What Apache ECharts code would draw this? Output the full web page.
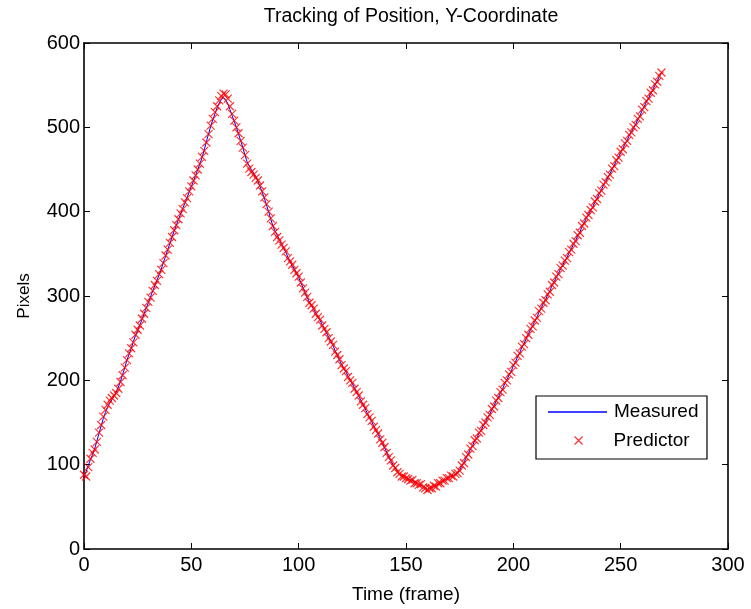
<!DOCTYPE html>
<html>
<head>
<meta charset="utf-8">
<script src="https://cdn.jsdelivr.net/npm/echarts@6/dist/echarts.min.js"></script>
<style>
  html, body { margin: 0; padding: 0; background: #fff; }
  #chart { width: 751px; height: 609px; }
</style>
</head>
<body>
<div id="chart"></div>
<script>
// Y-coordinate of the tracked object, one value per frame (pixels)
var measured = [
  85, 92, 99, 106, 112, 119, 128, 137, 146, 155,
  162, 168, 173, 177, 181, 186, 192, 199, 207, 215,
  224, 231, 238, 246, 253, 259, 266, 272, 279, 286,
  292, 299, 306, 312, 319, 325, 332, 340, 347, 355,
  362, 370, 377, 384, 391, 397, 404, 410, 417, 423,
  430, 436, 443, 450, 457, 464, 473, 483, 492, 501,
  509, 516, 523, 529, 533, 535, 533, 528, 521, 514,
  507, 500, 492, 484, 476, 467, 459, 454, 450, 446,
  442, 436, 430, 423, 416, 408, 400, 391, 383, 377,
  372, 367, 362, 357, 352, 346, 341, 336, 332, 327,
  322, 316, 310, 304, 298, 293, 289, 284, 280, 275,
  271, 266, 261, 256, 251, 246, 241, 235, 230, 224,
  219, 214, 210, 205, 200, 196, 191, 186, 181, 176,
  171, 166, 161, 156, 151, 146, 141, 136, 131, 126,
  120, 115, 109, 104, 100, 96, 92, 89, 87, 86,
  85, 83, 82, 81, 79, 78, 77, 76, 74, 72,
  71, 72, 73, 74, 75, 77, 79, 80, 82, 83,
  85, 86, 87, 88, 90, 94, 98, 103, 108, 113,
  118, 123, 128, 132, 137, 141, 146, 151, 155, 160,
  165, 170, 175, 180, 185, 190, 196, 201, 206, 211,
  217, 222, 228, 233, 239, 244, 249, 255, 260, 265,
  270, 275, 281, 286, 291, 296, 301, 306, 312, 317,
  322, 327, 332, 337, 341, 346, 351, 356, 361, 366,
  371, 376, 382, 387, 392, 397, 401, 406, 411, 416,
  421, 426, 431, 436, 440, 445, 450, 455, 460, 465,
  470, 475, 480, 485, 490, 495, 499, 504, 509, 514,
  520, 525, 530, 535, 540, 545, 550, 555, 560, 565
];

// Predicted Y-coordinate for each frame (pixels)
var predictor = [
  88, 86, 97, 107, 114, 118, 127, 138, 147, 157,
  165, 171, 176, 179, 182, 185, 190, 198, 206, 215,
  224, 232, 238, 245, 254, 260, 265, 273, 279, 286,
  293, 298, 306, 313, 318, 326, 331, 339, 348, 355,
  363, 370, 378, 384, 391, 398, 403, 411, 416, 424,
  430, 437, 443, 450, 457, 465, 472, 482, 492, 502,
  510, 518, 525, 532, 537, 540, 539, 534, 525, 516,
  508, 500, 493, 484, 476, 467, 457, 451, 447, 444,
  440, 437, 431, 424, 417, 409, 400, 392, 383, 376,
  370, 366, 361, 357, 353, 345, 341, 337, 331, 327,
  323, 316, 309, 304, 299, 292, 289, 285, 279, 275,
  272, 265, 261, 257, 250, 246, 242, 234, 230, 225,
  218, 214, 211, 204, 200, 197, 190, 186, 182, 175,
  171, 167, 160, 156, 152, 145, 141, 137, 130, 126,
  121, 114, 109, 105, 99, 96, 91, 89, 86, 86,
  84, 83, 81, 82, 78, 78, 76, 77, 73, 72,
  70, 72, 72, 75, 74, 78, 78, 81, 81, 84,
  84, 87, 86, 89, 90, 93, 99, 102, 109, 112,
  119, 122, 129, 131, 138, 140, 147, 150, 156, 159,
  166, 169, 176, 179, 186, 189, 197, 200, 207, 210,
  218, 221, 229, 232, 240, 243, 250, 254, 261, 264,
  271, 274, 282, 285, 292, 295, 302, 305, 313, 316,
  323, 326, 333, 336, 342, 345, 352, 355, 362, 365,
  372, 375, 383, 386, 393, 396, 402, 405, 412, 415,
  422, 425, 432, 435, 441, 444, 451, 454, 461, 464,
  471, 474, 481, 484, 491, 494, 500, 503, 510, 513,
  521, 524, 531, 534, 541, 544, 551, 554, 561, 565
];

var xTicks = { min: 0, max: 300, interval: 50 };
var yTicks = { min: 0, max: 600, interval: 100 };

var titleText = 'Tracking of Position, Y-Coordinate';
var xName = 'Time (frame)';
var yName = 'Pixels';
var seriesNames = ['Measured', 'Predictor'];

var FONT = '"Liberation Sans", Arial, Helvetica, sans-serif';
var BLUE = '#0000ff';
var RED = '#ff0000';

var measuredPts = measured.map(function (v, i) { return [i, v]; });
var predictorPts = predictor.map(function (v, i) { return [i, v]; });

var frameLine = { show: true, onZero: false, lineStyle: { color: '#000', width: 1.6 } };
var innerTick = { show: true, inside: true, length: 6, lineStyle: { color: '#000', width: 1 } };

function xAxisDef(pos, labels) {
  return {
    type: 'value', position: pos,
    min: xTicks.min, max: xTicks.max, interval: xTicks.interval,
    axisLine: frameLine, axisTick: innerTick, splitLine: { show: false },
    axisLabel: { show: labels, color: '#000', fontFamily: FONT, fontSize: 20, margin: 6 },
    name: labels ? xName : '', nameLocation: 'middle', nameGap: 36,
    nameTextStyle: { color: '#000', fontFamily: FONT, fontSize: 19 }
  };
}
function yAxisDef(pos, labels) {
  return {
    type: 'value', position: pos,
    min: yTicks.min, max: yTicks.max, interval: yTicks.interval,
    axisLine: frameLine, axisTick: innerTick, splitLine: { show: false },
    axisLabel: { show: labels, color: '#000', fontFamily: FONT, fontSize: 20, margin: 4 },
    name: labels ? yName : '', nameLocation: 'middle', nameGap: 51,
    nameTextStyle: { color: '#000', fontFamily: FONT, fontSize: 17 }
  };
}

var chart = echarts.init(document.getElementById('chart'), null, { renderer: 'canvas' });
chart.setOption({
  animation: false,
  backgroundColor: '#fff',
  title: {
    text: titleText, left: 406, top: 2, textAlign: 'center',
    textStyle: { color: '#000', fontFamily: FONT, fontSize: 19.5, fontWeight: 'normal' }
  },
  grid: { left: 84, top: 43, width: 644, height: 513, containLabel: false },
  xAxis: [xAxisDef('bottom', true), xAxisDef('top', false)],
  yAxis: [yAxisDef('left', true), yAxisDef('right', false)],
  graphic: [{
    // legend frame
    type: 'rect', z: 10,
    shape: { x: 536, y: 396, width: 171, height: 63 },
    style: { fill: '#fff', stroke: '#000', lineWidth: 1.2 }
  }, {
    // line sample for the "Measured" legend entry
    type: 'line', z: 30,
    shape: { x1: 548, y1: 412, x2: 607, y2: 412 },
    style: { stroke: BLUE, lineWidth: 1.3 }
  }],
  legend: [{
    data: [{ name: seriesNames[0], icon: 'none' }],
    left: 548, top: 402, z: 20,
    itemWidth: 59, itemHeight: 14, padding: 0,
    itemStyle: { opacity: 0 },
    lineStyle: { opacity: 0 },
    textStyle: { color: '#000', fontFamily: FONT, fontSize: 19, padding: [0, 0, 0, 2] }
  }, {
    data: [seriesNames[1]], left: 574, top: 431, z: 20,
    itemWidth: 8, itemHeight: 8, padding: 0,
    itemStyle: { color: 'transparent', borderColor: RED, borderWidth: 1.2 },
    textStyle: { color: '#000', fontFamily: FONT, fontSize: 19, padding: [0, 0, 0, 26] }
  }],
  series: [{
    name: seriesNames[0], type: 'line', data: measuredPts,
    xAxisIndex: 0, yAxisIndex: 0,
    showSymbol: false, symbol: 'none',
    lineStyle: { color: BLUE, width: 1 },
    itemStyle: { color: BLUE },
    z: 2
  }, {
    name: seriesNames[1], type: 'scatter', data: predictorPts,
    xAxisIndex: 0, yAxisIndex: 0,
    symbol: 'path://M0,0L10,10M0,10L10,0', symbolSize: 8,
    itemStyle: { color: 'transparent', borderColor: RED, borderWidth: 1.2 },
    z: 3
  }]
});
</script>
</body>
</html>
